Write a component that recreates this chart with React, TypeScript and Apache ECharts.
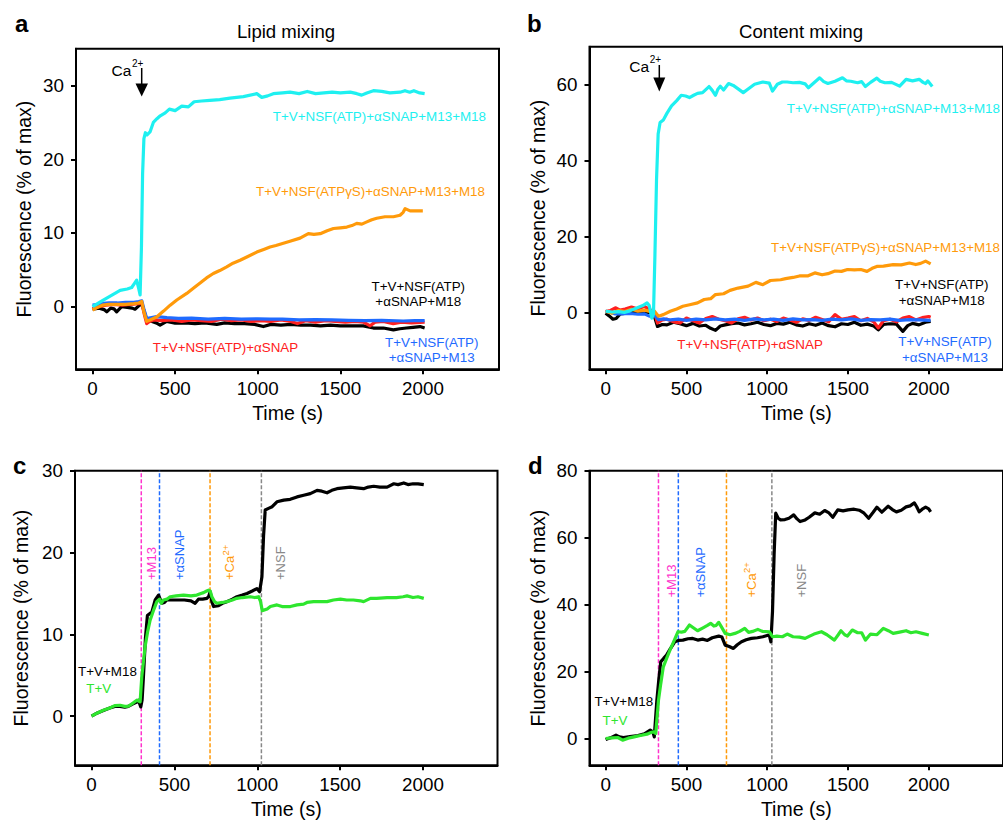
import React, { useEffect, useRef } from 'react';
import * as echarts from 'echarts';

const FONT = '"Liberation Sans", Arial, Helvetica, sans-serif';

// ---------- axis ticks ----------
const timeTicks = [0, 500, 1000, 1500, 2000];
const lipidTicks = [0, 10, 20, 30];
const contentTicks = [0, 20, 40, 60];
const triggeredLipidTicks = [0, 10, 20, 30];
const triggeredContentTicks = [0, 20, 40, 60, 80];

// ---------- panel a: lipid mixing ----------
const lipidCyan: number[][] = [[0,0],[65,0.9],[120,1.6],[167,2.2],[210,2.4],[237,2.6],[255,3.2],[267,3.6],[280,2.4],[288,1.6],[296,8],[303,18],[311,22.8],[320,23.6],[330,23.3],[348,23.7],[368,25.0],[390,25.5],[410,25.9],[440,26.3],[465,26.8],[500,26.6],[540,27.2],[580,27.1],[615,27.8],[660,27.9],[710,28.0],[770,28.1],[832,28.3],[913,28.5],[994,28.9],[1024,28.4],[1060,28.6],[1094,28.9],[1150,29.0],[1195,29.1],[1250,28.9],[1300,29.2],[1350,28.9],[1400,29.0],[1450,29.1],[1500,29.0],[1560,29.1],[1600,28.9],[1629,28.7],[1660,29.0],[1700,29.3],[1750,29.2],[1800,29.0],[1861,29.1],[1891,29.3],[1920,29.1],[1945,29.3],[1980,29.0],[2010,28.9]];
const lipidOrange: number[][] = [[0,-0.45],[30,-0.1],[60,0.2],[100,0.3],[150,0.3],[200,0.3],[250,0.4],[280,0.5],[298,0.7],[312,-0.8],[328,-2.0],[348,-1.8],[388,-1.4],[430,-0.6],[470,0.2],[510,0.9],[570,1.8],[610,2.5],[651,3.2],[690,3.9],[731,4.5],[770,4.9],[812,5.4],[850,5.9],[893,6.3],[940,6.8],[994,7.4],[1040,7.8],[1074,8.1],[1110,8.3],[1155,8.6],[1200,8.9],[1256,9.3],[1306,9.9],[1340,9.8],[1378,9.9],[1420,10.3],[1458,10.6],[1500,10.7],[1539,10.8],[1570,11.0],[1599,11.3],[1630,11.2],[1660,11.5],[1690,11.8],[1720,12.0],[1770,12.2],[1821,12.2],[1861,12.4],[1880,12.8],[1892,13.3],[1922,13.0],[1960,13.0],[1999,13.0]];
const lipidBlue: number[][] = [[0,0.2],[40,0.3],[65,0.45],[100,0.5],[150,0.5],[200,0.6],[250,0.6],[280,0.7],[298,0.8],[313,-0.5],[328,-1.6],[350,-1.5],[388,-1.35],[450,-1.5],[520,-1.6],[600,-1.55],[700,-1.7],[800,-1.6],[900,-1.7],[1000,-1.65],[1074,-1.7],[1150,-1.7],[1250,-1.8],[1350,-1.75],[1450,-1.8],[1550,-1.85],[1650,-1.9],[1750,-1.85],[1881,-1.95],[1950,-1.9],[2010,-1.9]];
const lipidRed: number[][] = [[0,-0.3],[40,0.0],[80,0.2],[130,0.3],[180,0.2],[230,0.3],[280,0.4],[298,0.5],[313,-1.0],[328,-2.3],[345,-2.0],[370,-1.8],[420,-1.9],[480,-1.8],[540,-2.0],[600,-1.8],[660,-1.9],[720,-2.0],[780,-1.7],[840,-1.9],[900,-1.8],[960,-2.0],[1020,-1.9],[1080,-2.0],[1140,-1.8],[1200,-2.0],[1240,-2.3],[1290,-1.9],[1350,-2.1],[1410,-1.9],[1470,-2.0],[1530,-2.1],[1590,-2.0],[1640,-2.1],[1680,-2.6],[1710,-2.1],[1760,-2.0],[1820,-2.3],[1870,-2.1],[1930,-2.2],[2010,-2.1]];
const lipidBlack: number[][] = [[0,-0.35],[40,-0.2],[70,-0.4],[86,-0.7],[110,-0.2],[130,-0.3],[146,-0.7],[176,0.0],[210,-0.1],[240,-0.2],[257,-0.35],[280,0.1],[298,0.45],[313,-0.7],[328,-1.8],[360,-2.0],[385,-2.2],[409,-2.5],[449,-2.0],[500,-2.25],[560,-2.2],[620,-2.3],[680,-2.2],[752,-2.4],[800,-2.2],[860,-2.3],[920,-2.3],[980,-2.4],[1034,-2.7],[1080,-2.4],[1140,-2.5],[1200,-2.4],[1260,-2.5],[1320,-2.5],[1380,-2.6],[1440,-2.5],[1500,-2.6],[1560,-2.6],[1639,-2.6],[1700,-2.9],[1760,-2.9],[1821,-3.15],[1860,-3.0],[1900,-2.9],[1940,-2.8],[1982,-2.7],[2010,-2.9]];

// ---------- panel b: content mixing ----------
const contentCyan: number[][] = [[0,0.3],[40,0.1],[80,0.2],[115,0.0],[150,0.4],[196,1.2],[230,1.8],[256,2.5],[270,1.8],[286,-1.5],[296,-0.5],[305,15],[315,35],[325,47],[337,50.0],[357,50.7],[380,52.5],[408,54.4],[440,55.8],[468,57.2],[495,57.0],[519,56.6],[545,57.2],[569,57.7],[600,57.9],[640,59.5],[660,58.5],[680,57.2],[695,58.8],[710,59.6],[730,58.6],[761,60.3],[790,59.8],[820,58.9],[852,57.9],[880,58.8],[922,60.1],[973,60.7],[1013,60.4],[1033,58.3],[1063,60.1],[1094,60.7],[1124,60.7],[1160,60.5],[1200,60.6],[1235,60.2],[1255,59.2],[1290,60.5],[1325,61.8],[1350,60.8],[1376,60.3],[1420,60.9],[1466,61.8],[1490,61.0],[1517,60.9],[1560,60.5],[1585,60.8],[1608,59.5],[1640,60.6],[1679,61.7],[1700,60.9],[1729,60.5],[1770,60.6],[1820,59.6],[1860,61.4],[1900,61.0],[1941,61.4],[1965,60.6],[1981,60.3],[1995,61.0],[2022,59.5]];
const contentOrange: number[][] = [[0,0.3],[40,-0.2],[80,0.5],[120,0.2],[160,0.8],[200,0.3],[240,0.6],[280,0.2],[300,0.4],[327,-1.0],[357,-0.6],[400,0.3],[440,0.9],[478,1.6],[520,2.0],[569,2.5],[610,3.4],[650,3.6],[680,4.7],[730,4.9],[770,5.8],[820,6.4],[882,6.9],[930,7.9],[973,7.3],[1020,8.4],[1083,8.6],[1114,8.9],[1160,9.2],[1200,9.6],[1250,9.6],[1295,10.4],[1340,9.9],[1376,10.2],[1420,10.9],[1460,10.8],[1497,11.3],[1540,11.2],[1580,11.3],[1618,10.8],[1650,11.6],[1679,12.1],[1720,12.2],[1780,12.6],[1830,12.5],[1881,13.0],[1920,12.6],[1950,12.9],[1981,13.5],[2012,12.8]];
const contentBlue: number[][] = [[0,0.3],[30,0.0],[60,-0.4],[100,-0.4],[150,-0.3],[200,-0.5],[240,-0.4],[270,-1.0],[300,-0.6],[327,-1.9],[360,-1.7],[400,-2.0],[450,-1.8],[500,-2.1],[560,-1.8],[620,-2.0],[680,-1.7],[740,-2.0],[800,-1.8],[860,-2.1],[920,-1.7],[980,-2.0],[1040,-1.8],[1100,-2.1],[1160,-1.7],[1220,-2.0],[1280,-1.9],[1340,-2.1],[1400,-1.8],[1460,-2.0],[1520,-1.7],[1580,-2.1],[1640,-1.9],[1700,-2.0],[1760,-1.8],[1820,-2.1],[1880,-1.9],[1940,-2.0],[2012,-2.1]];
const contentRed: number[][] = [[0,0.2],[30,0.5],[60,1.2],[90,0.6],[120,0.9],[160,1.4],[200,0.9],[240,1.6],[270,0.8],[300,0.2],[321,-2.8],[350,-2.0],[380,-1.8],[420,-2.5],[460,-2.8],[500,-1.5],[540,-2.2],[580,-2.8],[620,-1.6],[660,-1.1],[700,-1.8],[740,-2.2],[780,-2.8],[820,-1.7],[860,-1.3],[900,-2.0],[940,-1.5],[980,-2.2],[1020,-1.8],[1060,-2.4],[1100,-1.5],[1140,-2.0],[1180,-2.6],[1220,-1.7],[1260,-2.1],[1300,-1.3],[1340,-1.9],[1380,-2.5],[1420,-0.6],[1460,-1.8],[1500,-1.5],[1540,-1.1],[1580,-2.2],[1620,-1.6],[1660,-2.5],[1688,-4.1],[1720,-2.2],[1760,-1.8],[1800,-2.5],[1840,-1.5],[1880,-1.1],[1920,-2.0],[1960,-1.4],[2000,-1.1],[2012,-1.3]];
const contentBlack: number[][] = [[0,-0.2],[24,-1.0],[45,-1.8],[65,-1.6],[90,-0.4],[130,-0.2],[170,0.0],[210,-0.3],[250,0.0],[290,0.0],[305,-1.5],[321,-3.7],[350,-3.2],[380,-3.3],[420,-2.6],[460,-3.0],[500,-3.5],[540,-2.9],[580,-3.6],[620,-3.4],[650,-4.2],[680,-4.75],[710,-3.6],[740,-3.3],[780,-3.0],[820,-2.8],[860,-3.3],[900,-3.0],[940,-2.6],[980,-3.2],[1020,-3.5],[1060,-2.9],[1100,-3.1],[1140,-2.6],[1180,-3.3],[1220,-3.6],[1260,-3.0],[1300,-3.4],[1340,-2.8],[1380,-3.5],[1420,-3.8],[1460,-3.0],[1500,-3.2],[1540,-2.6],[1580,-3.4],[1620,-3.1],[1660,-3.6],[1688,-4.6],[1720,-3.2],[1760,-3.0],[1800,-3.1],[1840,-5.0],[1870,-3.5],[1900,-2.9],[1940,-3.3],[1980,-2.6],[2012,-2.4]];

// ---------- panel c: sequential additions, lipid mixing ----------
const lipidTV: number[][] = [[0,0],[35,0.4],[71,0.73],[110,1.0],[140,1.3],[172,1.34],[200,1.2],[222,1.22],[250,1.6],[273,1.96],[293,1.75],[303,4.8],[323,8.5],[338,10.3],[353,11.7],[375,13.0],[394,14.0],[410,14.3],[420,13.8],[434,14.2],[455,14.3],[474,14.6],[510,14.7],[555,14.8],[600,14.7],[635,14.8],[660,15.0],[676,15.1],[695,15.3],[706,15.4],[716,15.3],[726,14.6],[742,14.0],[757,13.8],[790,13.9],[817,14.0],[850,14.2],[877,14.4],[910,14.5],[958,14.6],[985,14.5],[1008,14.6],[1020,14.0],[1030,12.9],[1060,13.1],[1079,13.4],[1119,13.6],[1150,13.4],[1200,13.4],[1240,13.6],[1280,13.7],[1300,13.9],[1340,14.0],[1381,14.0],[1421,14.0],[1460,14.2],[1502,14.3],[1540,14.2],[1580,14.2],[1622,14.1],[1642,14.0],[1683,14.4],[1720,14.4],[1784,14.5],[1840,14.5],[1880,14.6],[1904,14.7],[1940,14.5],[1970,14.6],[2005,14.4]];
const lipidTVM18: number[][] = [[0,0],[35,0.4],[71,0.7],[110,1.0],[140,1.2],[172,1.2],[200,1.1],[222,1.2],[250,1.5],[270,1.7],[283,1.96],[297,1.14],[305,2.0],[313,4.8],[325,9.5],[337,12.3],[364,12.75],[384,14.2],[404,14.8],[414,14.3],[424,13.8],[440,13.9],[454,14.2],[500,14.2],[560,14.2],[600,14.1],[625,13.8],[645,14.3],[670,14.3],[696,14.4],[706,14.6],[716,15.2],[726,14.0],[736,13.4],[766,13.5],[790,13.8],[817,14.0],[850,14.3],[877,14.6],[910,14.8],[938,15.0],[970,15.3],[998,15.6],[1014,15.2],[1028,17.0],[1038,22.0],[1048,25.2],[1068,25.4],[1090,25.6],[1119,26.2],[1160,26.4],[1199,26.5],[1240,26.8],[1280,27.0],[1320,27.2],[1361,27.6],[1390,27.5],[1421,27.3],[1450,27.6],[1481,27.8],[1520,27.9],[1562,28.0],[1600,27.9],[1642,27.8],[1670,28.0],[1703,28.1],[1740,28.0],[1784,28.0],[1824,28.4],[1850,28.3],[1884,28.5],[1910,28.3],[1940,28.4],[1970,28.4],[2005,28.3]];

// ---------- panel d: sequential additions, content mixing ----------
const contentTV: number[][] = [[0,0],[40,0.2],[75,0.3],[105,-0.5],[140,0.1],[176,0.5],[215,0.9],[256,1.3],[280,1.8],[297,2.0],[310,1.5],[327,11.4],[340,16],[357,21.4],[378,24],[398,26.4],[420,28.8],[448,31.9],[470,31.8],[490,32.0],[519,33.9],[545,33.0],[569,32.2],[600,33.0],[630,33.8],[650,34.4],[670,33.6],[685,33.8],[700,34.7],[715,33.5],[740,31.4],[770,31.0],[800,31.4],[830,32.0],[861,32.9],[885,31.7],[910,32.0],[942,32.6],[970,32.0],[1013,31.9],[1025,31.0],[1033,30.4],[1060,30.6],[1094,30.4],[1124,31.2],[1160,30.4],[1200,30.3],[1235,29.9],[1260,30.5],[1290,31.2],[1336,31.9],[1370,31.0],[1416,29.4],[1440,31.0],[1457,32.2],[1480,31.0],[1497,30.6],[1527,32.4],[1560,31.6],[1585,31.6],[1608,29.4],[1640,31.2],[1680,31.0],[1719,32.9],[1750,32.2],[1780,31.4],[1820,31.8],[1860,32.2],[1890,31.6],[1921,31.9],[1960,31.4],[2001,30.9]];
const contentTVM18: number[][] = [[0,-0.3],[30,0.2],[64,1.0],[85,0.5],[110,0.3],[150,0.6],[200,0.9],[240,1.4],[276,2.5],[292,2.0],[301,0.5],[317,11.4],[330,18],[341,22.9],[360,24],[377,24.9],[400,26.8],[428,28.9],[450,29.3],[478,29.4],[510,29.8],[539,29.9],[570,29.4],[600,29.7],[630,29.3],[660,30.1],[700,30.6],[720,30.3],[740,27.9],[765,27.5],[791,26.9],[815,28.0],[841,28.9],[870,29.5],[902,29.9],[940,30.1],[973,30.4],[1000,30.8],[1013,30.9],[1023,28.9],[1033,38],[1043,55],[1053,67.3],[1068,65.8],[1083,65.3],[1110,65.4],[1135,65.8],[1164,66.8],[1185,65.6],[1204,64.8],[1235,65.3],[1260,66.1],[1295,67.4],[1325,67.0],[1356,68.1],[1380,67.5],[1406,66.1],[1437,68.3],[1470,68.0],[1500,68.3],[1538,68.5],[1570,68.2],[1600,67.3],[1628,65.8],[1655,67.5],[1679,69.1],[1710,67.6],[1749,69.4],[1775,68.4],[1800,67.7],[1830,68.2],[1860,69.2],[1885,69.5],[1911,70.4],[1925,69.3],[1941,67.7],[1960,68.5],[1981,69.1],[2000,68.6],[2012,67.7]];

// addition times (s) for panels c and d
const additionLabels = ['+M13', '+αSNAP', '+Ca', '+NSF'];
const additionTimesC = [300, 410, 715, 1025];
const additionTimesD = [327, 450, 748, 1029];

const C = {
  cyan: '#1ef0f0',
  orange: '#ff9a0a',
  red: '#ff2020',
  blue: '#1f6bff',
  black: '#000000',
  green: '#2ee62e',
  magenta: '#ff33cc',
  gray: '#888888',
};
const additionColors = [C.magenta, C.blue, C.orange, C.gray];

const yRanges = [[-8.5, 35], [-15, 70], [-6, 30], [-8, 80]];
const xMax = [2460, 2460, 2450, 2460];
const yTicks = [lipidTicks, contentTicks, triggeredLipidTicks, triggeredContentTicks];
const yNameGap = [42, 42, 44, 42];

function curve(data: number[][], color: string, idx: number) {
  return {
    type: 'line', xAxisIndex: idx, yAxisIndex: idx, data,
    symbol: 'none', showSymbol: false, silent: true,
    lineStyle: { color, width: 3.2, join: 'round' }, itemStyle: { color },
  };
}
function vline(t: number, color: string, idx: number) {
  const r = yRanges[idx];
  return {
    type: 'line', xAxisIndex: idx, yAxisIndex: idx,
    data: [[t, r[0]], [t, r[1]]], symbol: 'none', silent: true,
    lineStyle: { color, width: 1.5, type: [4, 2] }, itemStyle: { color },
  };
}

function txt(x: number, y: number, text: string, size: number, fill: string, align = 'left', extra: any = {}) {
  const { bold, lineHeight, ...rest } = extra;
  return {
    type: 'text', x, y, silent: true, ...rest,
    style: {
      text, fill, font: `${bold ? 'bold ' : ''}${size}px ${FONT}`,
      textAlign: align, textVerticalAlign: 'middle', align, verticalAlign: 'middle',
      lineHeight: lineHeight || size * 1.15,
    },
  };
}
function rtxt(x: number, y: number, text: string, size: number, fill: string) {
  return {
    type: 'text', x, y, rotation: Math.PI / 2, silent: true,
    style: { text, fill, font: `${size}px ${FONT}`, textAlign: 'left', textVerticalAlign: 'middle', align: 'left', verticalAlign: 'middle' },
  };
}

export default function App() {
  const ref = useRef<HTMLDivElement>(null);
  useEffect(() => {
    if (!ref.current) return;
    const chart = echarts.init(ref.current, null, { renderer: 'svg' });
    const grids = [
      { left: 76, top: 48.7, width: 423, height: 320.6 },
      { left: 589.5, top: 46.7, width: 423, height: 322.6 },
      { left: 75, top: 470.7, width: 422.5, height: 294.6 },
      { left: 589.5, top: 470.7, width: 423, height: 294.6 },
    ].map((g) => ({ ...g, show: true, borderColor: '#000', borderWidth: 2, backgroundColor: 'transparent', containLabel: false }));

    const plain = (v: number) => String(v);
    const xAxes = [0, 1, 2, 3].map((i) => ({
      type: 'value', gridIndex: i, min: -100, max: xMax[i],
      name: 'Time (s)', nameLocation: 'middle', nameGap: 34,
      nameTextStyle: { fontSize: 19.5, color: '#000', fontFamily: FONT },
      axisLine: { show: true, onZero: false, lineStyle: { color: '#000', width: 2 } },
      axisTick: { show: true, inside: false, length: 5, customValues: timeTicks, lineStyle: { color: '#000', width: 2 } },
      axisLabel: { show: true, customValues: timeTicks, formatter: plain, margin: 10, fontSize: 18.8, color: '#000', fontFamily: FONT },
      splitLine: { show: false },
    }));
    const yAxes = [0, 1, 2, 3].map((i) => ({
      type: 'value', gridIndex: i, min: yRanges[i][0], max: yRanges[i][1],
      name: 'Fluorescence (% of max)', nameLocation: 'middle', nameGap: yNameGap[i],
      nameTextStyle: { fontSize: 19.5, color: '#000', fontFamily: FONT },
      axisLine: { show: true, onZero: false, lineStyle: { color: '#000', width: 2 } },
      axisTick: { show: true, inside: false, length: 5, customValues: yTicks[i], lineStyle: { color: '#000', width: 2 } },
      axisLabel: { show: true, customValues: yTicks[i], formatter: plain, margin: 12, fontSize: 18.8, color: '#000', fontFamily: FONT },
      splitLine: { show: false },
    }));

    const series: any[] = [
      curve(lipidBlack, C.black, 0), curve(lipidRed, C.red, 0), curve(lipidBlue, C.blue, 0),
      curve(lipidOrange, C.orange, 0), curve(lipidCyan, C.cyan, 0),
      curve(contentBlack, C.black, 1), curve(contentRed, C.red, 1), curve(contentBlue, C.blue, 1),
      curve(contentOrange, C.orange, 1), curve(contentCyan, C.cyan, 1),
    ];
    additionTimesC.forEach((t, k) => series.push(vline(t, additionColors[k], 2)));
    additionTimesD.forEach((t, k) => series.push(vline(t, additionColors[k], 3)));
    series.push(curve(lipidTVM18, C.black, 2), curve(lipidTV, C.green, 2));
    series.push(curve(contentTVM18, C.black, 3), curve(contentTV, C.green, 3));

    const A = 13.4;
    const graphic: any[] = [
      // panel letters and titles
      txt(15, 23, 'a', 24, '#000', 'left', { bold: true }),
      txt(527, 23, 'b', 24, '#000', 'left', { bold: true }),
      txt(13, 465, 'c', 24, '#000', 'left', { bold: true }),
      txt(528, 465, 'd', 24, '#000', 'left', { bold: true }),
      txt(286, 31.5, 'Lipid mixing', 18.6, '#000', 'center'),
      txt(801, 31.5, 'Content mixing', 18.6, '#000', 'center'),
      // Ca2+ arrows
      txt(111.5, 70, 'Ca', 15.5, '#000'),
      txt(132, 63.5, '2+', 10, '#000'),
      { type: 'line', silent: true, shape: { x1: 141.7, y1: 68, x2: 141.7, y2: 86 }, style: { stroke: '#000', lineWidth: 1.5 } },
      { type: 'polygon', silent: true, shape: { points: [[135.5, 83.5], [148, 83.5], [141.7, 96.5]] }, style: { fill: '#000' } },
      txt(629.3, 66, 'Ca', 15.5, '#000'),
      txt(649.8, 59.5, '2+', 10, '#000'),
      { type: 'line', silent: true, shape: { x1: 659.3, y1: 65, x2: 659.3, y2: 80 }, style: { stroke: '#000', lineWidth: 1.5 } },
      { type: 'polygon', silent: true, shape: { points: [[653.3, 77.5], [665.3, 77.5], [659.3, 91.5]] }, style: { fill: '#000' } },
      // panel a labels
      txt(486, 116.7, 'T+V+NSF(ATP)+αSNAP+M13+M18', A, C.cyan, 'right'),
      txt(485, 191, 'T+V+NSF(ATPγS)+αSNAP+M13+M18', A, C.orange, 'right'),
      txt(418.3, 294.2, 'T+V+NSF(ATP)\n+αSNAP+M18', A, C.black, 'center', { lineHeight: 15.5 }),
      txt(152.7, 347.5, 'T+V+NSF(ATP)+αSNAP', A, C.red, 'left'),
      txt(431.7, 350, 'T+V+NSF(ATP)\n+αSNAP+M13', A, C.blue, 'center', { lineHeight: 15 }),
      // panel b labels
      txt(1000, 108.8, 'T+V+NSF(ATP)+αSNAP+M13+M18', A, C.cyan, 'right'),
      txt(1000, 247.5, 'T+V+NSF(ATPγS)+αSNAP+M13+M18', A, C.orange, 'right'),
      txt(941.7, 292.3, 'T+V+NSF(ATP)\n+αSNAP+M18', A, C.black, 'center', { lineHeight: 16.5 }),
      txt(677.3, 344.5, 'T+V+NSF(ATP)+αSNAP', A, C.red, 'left'),
      txt(945, 349.3, 'T+V+NSF(ATP)\n+αSNAP+M13', A, C.blue, 'center', { lineHeight: 16.5 }),
      // panel c labels
      txt(107.5, 671, 'T+V+M18', A, C.black, 'center'),
      txt(98.8, 688.3, 'T+V', A, C.green, 'center'),
      rtxt(151.7, 580, additionLabels[0], 13, C.magenta),
      rtxt(179.5, 580, additionLabels[1], 13, C.blue),
      rtxt(229.5, 580, additionLabels[2], 13, C.orange),
      rtxt(225, 555.5, '2+', 9.5, C.orange),
      rtxt(280, 580, additionLabels[3], 13, C.gray),
      // panel d labels
      txt(623.8, 701.3, 'T+V+M18', A, C.black, 'center'),
      txt(615, 720.5, 'T+V', A, C.green, 'center'),
      rtxt(671.3, 597.5, additionLabels[0], 13, C.magenta),
      rtxt(700.5, 597.5, additionLabels[1], 13, C.blue),
      rtxt(751, 597.5, additionLabels[2], 13, C.orange),
      rtxt(746.5, 573, '2+', 9.5, C.orange),
      rtxt(801.3, 597.5, additionLabels[3], 13, C.gray),
    ];

    chart.setOption({
      animation: false,
      backgroundColor: '#fff',
      grid: grids,
      xAxis: xAxes,
      yAxis: yAxes,
      series,
      graphic,
    });
    return () => chart.dispose();
  }, []);
  return <div ref={ref} style={{ position: 'absolute', left: 0, top: 0, width: 1003, height: 821 }} />;
}
